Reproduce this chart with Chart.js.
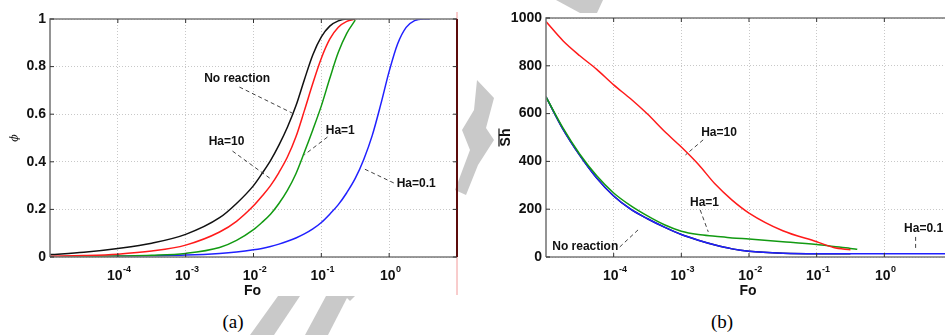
<!DOCTYPE html>
<html>
<head>
<meta charset="utf-8">
<script src="https://cdn.jsdelivr.net/npm/chart.js@4.4.1/dist/chart.umd.min.js"></script>
<style>
  html, body { margin: 0; padding: 0; background: #fff; overflow: hidden; }
  body { width: 945px; height: 335px; position: relative; }
  #wm { position: absolute; left: 0; top: 0; z-index: 0; }
  .panel { position: absolute; top: 0; z-index: 1; }
  .caption { position: absolute; top: 311px; line-height: 1; z-index: 2;
             font: 19px "Liberation Serif", "Times New Roman", serif; transform: translateX(-50%); }
</style>
</head>
<body>
<svg id="wm" width="945" height="335">
  <g fill="#c9c9c9">
    <polygon points="556,0 603,0 597,13 580,13"/>
    <polygon points="477,80 494,98 486,128 494,140 478,165 466,195 455,190 470,150 462,130 474,110"/>
    <polygon points="250,335 274,335 300,296 278,296"/>
    <polygon points="305,335 328,335 348,296 326,296"/>
    <polygon points="345,296 355,296 350,301"/>
  </g>
</svg>
<canvas id="chartA" class="panel" width="470" height="300" style="left:0"></canvas>
<canvas id="chartB" class="panel" width="482" height="300" style="left:470px"></canvas>
<div class="caption" style="left:233px">(a)</div>
<div class="caption" style="left:722px">(b)</div>

<script>
const FONT = '"Liberation Sans", Arial, sans-serif';

// x ticks, one per decade
const decadeTicks = [1e-4, 1e-3, 1e-2, 1e-1, 1];
const decadeExponents = ['-4', '-3', '-2', '-1', '0'];
const phiTicks = [0, 0.2, 0.4, 0.6, 0.8, 1];
const shTicks = [0, 200, 400, 600, 800, 1000];

// (a) concentration phi vs Fo
const foA = [1e-5, 3.16e-5, 1e-4, 3.16e-4, 1e-3, 3.16e-3, 5.62e-3, 1e-2, 1.33e-2, 1.78e-2,
             2.37e-2, 3.16e-2, 4.22e-2, 5.62e-2, 7.5e-2, 0.1, 0.133, 0.178, 0.237, 0.316,
             0.422, 0.562, 0.75, 1, 1.33, 1.78, 2.37, 3.16, 3.98];
const phiNoReaction = [0.01, 0.02, 0.036, 0.058, 0.095, 0.165, 0.225, 0.3, 0.35, 0.405,
                       0.47, 0.545, 0.635, 0.745, 0.85, 0.925, 0.97, 0.992, 1.0, 1.0,
                       null, null, null, null, null, null, null, null, null];
const phiHa10 = [0.003, 0.006, 0.012, 0.025, 0.05, 0.105, 0.15, 0.215, 0.255, 0.3,
                 0.355, 0.42, 0.505, 0.615, 0.73, 0.835, 0.915, 0.965, 0.99, 1.0,
                 null, null, null, null, null, null, null, null, null];
const phiHa1 = [0.001, 0.002, 0.004, 0.007, 0.015, 0.04, 0.07, 0.115, 0.145, 0.18,
                0.225, 0.28, 0.35, 0.44, 0.535, 0.635, 0.75, 0.86, 0.94, 0.995,
                null, null, null, null, null, null, null, null, null];
const phiHa01 = [0.001, 0.002, 0.003, 0.005, 0.008, 0.015, 0.021, 0.03, 0.036, 0.044,
                 0.054, 0.066, 0.08, 0.097, 0.118, 0.145, 0.18, 0.22, 0.27, 0.33,
                 0.41, 0.51, 0.64, 0.78, 0.895, 0.965, 0.993, 1.0, 1.0];

// (b) mean Sherwood number vs Fo
const foB = [1e-5, 1.78e-5, 3.16e-5, 5.62e-5, 1e-4, 1.78e-4, 3.16e-4, 5.62e-4, 1e-3, 1.78e-3,
             3.16e-3, 5.62e-3, 1e-2, 3.16e-2, 0.1, 0.178, 0.316, 0.398, 1, 3.16, 10];
const shHa10 = [985, 905, 842, 785, 720, 662, 598, 526, 460, 388,
                305, 238, 184, 110, 64, 40, 30, null, null, null, null];
const shHa1 = [670, 540, 430, 340, 268, 215, 172, 135, 108, 94,
               87, 80, 75, 64, 52, 44, 36, 32, null, null, null];
const shHa01 = [670, 535, 425, 330, 255, 200, 160, 125, 94, 70,
                50, 34, 24, 16, 14, 14, 14, 14, 14, 14, 14];
const shNoReaction = [670, 535, 425, 330, 255, 200, 160, 125, 94, 70,
                      50, 34, 24, 16, 14, 14, 14, null, null, null, null];

// curve labels: text position and dashed leader, in data units (Fo, value)
const notesA = [
  { text: 'No reaction', at: [5.75e-3, 0.75], from: [6.2e-3, 0.714], to: [3.7e-2, 0.605] },
  { text: 'Ha=10', at: [4.0e-3, 0.483], from: [4.9e-3, 0.445], to: [1.8e-2, 0.328] },
  { text: 'Ha=1', at: [0.19, 0.53], from: [0.123, 0.504], to: [0.056, 0.429] },
  { text: 'Ha=0.1', at: [2.5, 0.31], from: [1.17, 0.311], to: [0.43, 0.37] }
];
const notesB = [
  { text: 'Ha=10', at: [3.6e-3, 519], from: [2.1e-3, 490], to: [1.15e-3, 427] },
  { text: 'Ha=1', at: [2.2e-3, 226], from: [1.9e-3, 197], to: [2.5e-3, 105] },
  { text: 'No reaction', at: [3.8e-5, 42], from: [1.23e-4, 42], to: [2.45e-4, 121] },
  { text: 'Ha=0.1', at: [3.8, 117], from: [2.9, 84], to: [2.9, 29] }
];

function series(fo, vals, color) {
  const pts = [];
  fo.forEach((f, i) => { if (vals[i] !== null) pts.push({ x: f, y: vals[i] }); });
  return {
    data: pts, borderColor: color, borderWidth: 1.5, pointRadius: 0,
    fill: false, cubicInterpolationMode: 'monotone'
  };
}

function line(ctx, x1, y1, x2, y2) {
  ctx.beginPath(); ctx.moveTo(x1, y1); ctx.lineTo(x2, y2); ctx.stroke();
}

// frame, inward ticks, power-of-ten labels, axis titles and curve labels
const decorPlugin = {
  id: 'decor',
  afterDraw(chart, args, opts) {
    const { ctx, chartArea: a } = chart;
    const x = chart.scales.x, y = chart.scales.y;
    ctx.save();

    ctx.strokeStyle = '#7a7a7a';
    ctx.lineWidth = 1.6;
    ctx.beginPath();
    ctx.moveTo(a.left, a.bottom); ctx.lineTo(a.left, a.top); ctx.lineTo(a.right, a.top);
    ctx.moveTo(a.left, a.bottom); ctx.lineTo(a.right, a.bottom);
    ctx.stroke();
    if (opts.rightEdge) {
      ctx.strokeStyle = '#f29a9a'; ctx.lineWidth = 1;
      line(ctx, a.right, a.top - 7, a.right, a.bottom + 38);
      ctx.strokeStyle = '#5c0c0c'; ctx.lineWidth = 2;
      line(ctx, a.right, a.top, a.right, a.bottom);
    }

    ctx.strokeStyle = '#333'; ctx.lineWidth = 1;
    x.ticks.forEach(t => {
      const px = x.getPixelForValue(t.value);
      line(ctx, px, a.bottom, px, a.bottom - 4);
      line(ctx, px, a.top, px, a.top + 4);
    });
    y.ticks.forEach(t => {
      const py = y.getPixelForValue(t.value);
      line(ctx, a.left, py, a.left + 4, py);
      if (opts.rightEdge) line(ctx, a.right, py, a.right - 4, py);
    });

    ctx.fillStyle = '#111';
    ctx.textBaseline = 'alphabetic';
    ctx.textAlign = 'left';
    decadeTicks.forEach((v, i) => {
      const px = x.getPixelForValue(v);
      ctx.font = 'bold 14px ' + FONT;
      const wb = ctx.measureText('10').width;
      ctx.font = 'bold 9px ' + FONT;
      const we = ctx.measureText(decadeExponents[i]).width;
      const x0 = px - (wb + we) / 2 + 1;
      ctx.font = 'bold 14px ' + FONT;
      ctx.fillText('10', x0, a.bottom + 23);
      ctx.font = 'bold 9px ' + FONT;
      ctx.fillText(decadeExponents[i], x0 + wb + 0.5, a.bottom + 15);
    });

    ctx.textAlign = 'center';
    ctx.font = 'bold 14px ' + FONT;
    ctx.fillText('Fo', (a.left + a.right) / 2 - 1, a.bottom + 38);

    ctx.save();
    ctx.translate(opts.yTitleX, (a.top + a.bottom) / 2);
    ctx.rotate(-Math.PI / 2);
    ctx.textBaseline = 'middle';
    if (opts.yTitle === 'phi') {
      ctx.font = 'italic 11px "DejaVu Serif", serif';
      ctx.fillText('\u03d5', 0, 0);
    } else {
      ctx.font = 'bold 14px ' + FONT;
      ctx.fillText('Sh', 0, 0);
      ctx.lineWidth = 1.2; ctx.strokeStyle = '#111';
      line(ctx, -9, -7, 9, -7);
    }
    ctx.restore();

    ctx.font = 'bold 12px ' + FONT;
    ctx.textBaseline = 'middle';
    ctx.textAlign = 'center';
    ctx.strokeStyle = '#444';
    ctx.setLineDash([4, 3]);
    opts.notes.forEach(n => {
      line(ctx, x.getPixelForValue(n.from[0]), y.getPixelForValue(n.from[1]),
                x.getPixelForValue(n.to[0]), y.getPixelForValue(n.to[1]));
      ctx.fillText(n.text, x.getPixelForValue(n.at[0]), y.getPixelForValue(n.at[1]));
    });
    ctx.restore();
  }
};

function makeChart(id, datasets, yTicks, yWidth, padding, decor) {
  return new Chart(document.getElementById(id), {
    type: 'line',
    data: { datasets: datasets },
    plugins: [decorPlugin],
    options: {
      responsive: false,
      animation: false,
      events: [],
      layout: { padding: padding },
      plugins: { legend: { display: false }, tooltip: { enabled: false }, decor: decor },
      scales: {
        x: {
          type: 'logarithmic', min: 1e-5, max: 10,
          afterBuildTicks: s => { s.ticks = decadeTicks.map(v => ({ value: v })); },
          afterFit: s => { s.height = 43; },
          ticks: { display: false },
          grid: { color: '#c8c8c8', lineWidth: 1, drawTicks: false },
          border: { display: false, dash: [1, 2] }
        },
        y: {
          min: yTicks[0], max: yTicks[yTicks.length - 1],
          afterBuildTicks: s => { s.ticks = yTicks.map(v => ({ value: v })); },
          afterFit: s => { s.width = yWidth; },
          ticks: {
            padding: 4, color: '#111',
            font: { family: FONT, size: 14, weight: 'bold' },
            callback: v => String(v)
          },
          grid: { color: '#c8c8c8', lineWidth: 1, drawTicks: false },
          border: { display: false, dash: [1, 2] }
        }
      }
    }
  });
}

makeChart('chartA', [
  series(foA, phiNoReaction, '#111111'),
  series(foA, phiHa10, '#ff1a1a'),
  series(foA, phiHa1, '#129a12'),
  series(foA, phiHa01, '#2020ff')
], phiTicks, 50, { left: 0, top: 19, right: 13, bottom: 0 },
   { rightEdge: true, yTitle: 'phi', yTitleX: 15, notes: notesA });

makeChart('chartB', [
  series(foB, shHa10, '#ff1a1a'),
  series(foB, shHa1, '#129a12'),
  series(foB, shHa01, '#2020ff'),
  series(foB, shNoReaction, '#111111')
], shTicks, 76, { left: 0, top: 18, right: 0, bottom: 0 },
   { rightEdge: false, yTitle: 'Sh', yTitleX: 36, notes: notesB });
</script>
</body>
</html>
